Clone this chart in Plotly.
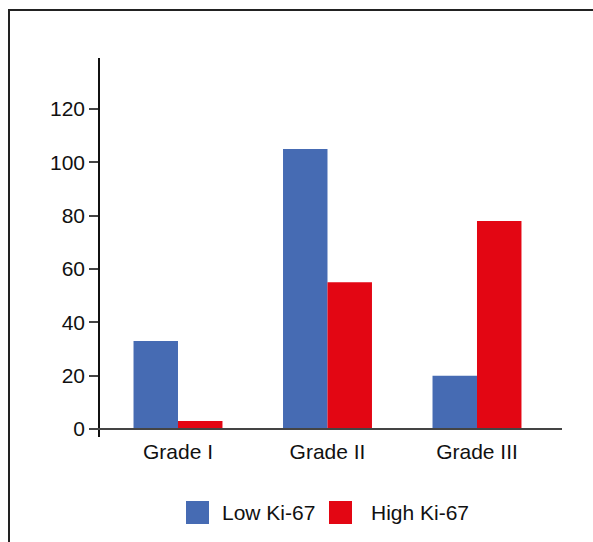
import plotly.graph_objects as go

categories = ["Grade I", "Grade II", "Grade III"]
low_ki67 = [33, 105, 20]
high_ki67 = [3, 55, 78]
series_names = ["Low Ki-67", "High Ki-67"]
y_tickvals = [0, 20, 40, 60, 80, 100, 120]

BLUE = "#466BB3"
RED = "#E30613"
FONT = "Liberation Sans, Arial, Helvetica, sans-serif"
TXT = "#111111"

W, H = 593, 542
L, R, T, B = 100, 562, 58, 437


def px_x(p):
    return (p - L) / (R - L)


def px_y(p):
    return (B - p) / (B - T)


fig = go.Figure()
fig.add_trace(go.Bar(x=categories, y=low_ki67, name=series_names[0],
                     marker=dict(color=BLUE, line=dict(width=0)), showlegend=False))
fig.add_trace(go.Bar(x=categories, y=high_ki67, name=series_names[1],
                     marker=dict(color=RED, line=dict(width=0)), showlegend=False))

shapes = []
# outer frame (top and left)
shapes.append(dict(type="line", xref="paper", yref="paper",
                   x0=px_x(8), x1=px_x(600), y0=px_y(10), y1=px_y(10),
                   line=dict(color="#222222", width=2)))
shapes.append(dict(type="line", xref="paper", yref="paper",
                   x0=px_x(9), x1=px_x(9), y0=px_y(10), y1=px_y(560),
                   line=dict(color="#222222", width=2)))
# x baseline at y = 0
shapes.append(dict(type="line", xref="paper", yref="y",
                   x0=px_x(93), x1=px_x(562), y0=0, y1=0,
                   line=dict(color="#444444", width=2)))
# legend swatches
for (xa, xb, col) in [(186, 209, BLUE), (329, 352, RED)]:
    shapes.append(dict(type="rect", xref="paper", yref="paper",
                       x0=px_x(xa), x1=px_x(xb), y0=px_y(524), y1=px_y(501),
                       fillcolor=col, line=dict(width=0)))

annotations = []
for name, xp in zip(series_names, [219.5, 368.5]):
    annotations.append(dict(text=name, xref="paper", yref="paper",
                            x=px_x(xp), y=px_y(512.5), xanchor="left", yanchor="middle",
                            showarrow=False, font=dict(family=FONT, size=21, color=TXT)))

fig.update_layout(
    width=W, height=H,
    margin=dict(l=L, r=W - R, t=T, b=H - B, pad=0),
    paper_bgcolor="white", plot_bgcolor="white",
    barmode="group", bargap=0.405, bargroupgap=0,
    showlegend=False,
    font=dict(family=FONT, size=21, color=TXT),
    shapes=shapes, annotations=annotations,
    xaxis=dict(range=[-0.5217, 2.5686], showgrid=False, zeroline=False,
               showline=False, ticks="", tickfont=dict(family=FONT, size=21, color=TXT)),
    yaxis=dict(range=[-3.0, 139.1], tickvals=y_tickvals, showgrid=False, zeroline=False,
               showline=True, linecolor="#111111", linewidth=1.5,
               ticks="outside", ticklen=9, tickwidth=1.5, tickcolor="#444444",
               tickfont=dict(family=FONT, size=21, color=TXT)),
)

fig.write_html("out.html", config={"displayModeBar": False},
               post_script="document.body.style.margin='0';document.body.style.padding='0';")
